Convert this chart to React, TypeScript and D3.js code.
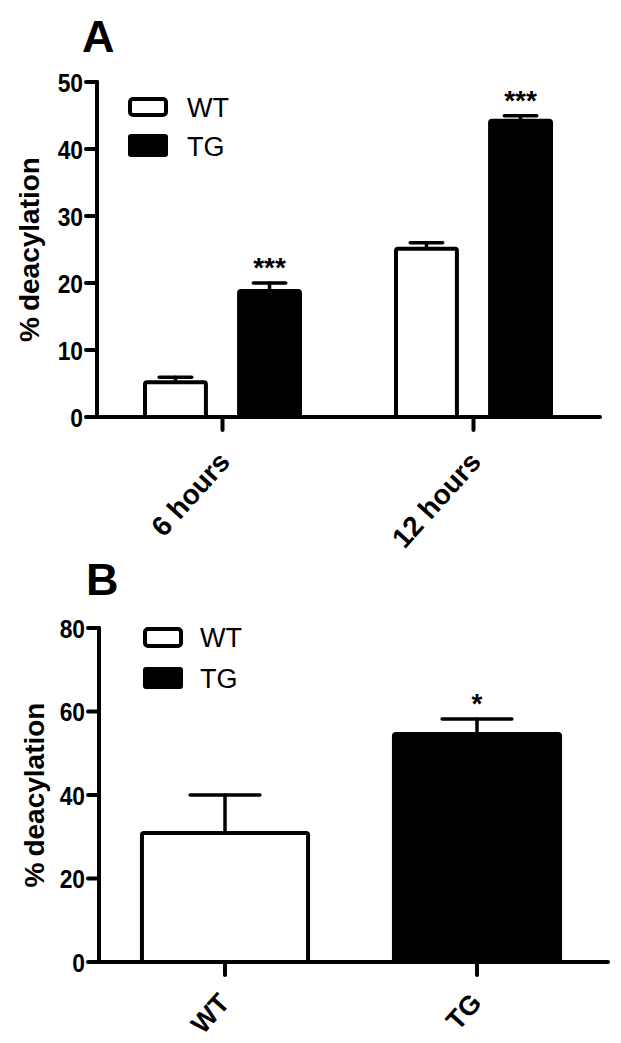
import React from "react";
import * as d3 from "d3";

// ---------- Data ----------
const catsA = ["6 hours", "12 hours"];
const groupsA = ["WT", "TG"];
const wtA = [5.5, 25.4];
const wtErrA = [0.45, 0.6];
const tgA = [19.1, 44.5];
const tgErrA = [0.9, 0.45];
const starsA = ["***", "***"];
const ticksA = [0, 10, 20, 30, 40, 50];

const catsB = ["WT", "TG"];
const valsB = [31.4, 55.1];
const errB = [8.6, 3.1];
const starsB = ["", "*"];
const ticksB = [0, 20, 40, 60, 80];

const FONT = "'Liberation Sans', Arial, Helvetica, sans-serif";
const W = 621;
const H = 1043;

function Bar({ x, w, y0, y1, fill }: { x: number; w: number; y0: number; y1: number; fill: string }) {
  return (
    <rect
      x={x + 2}
      y={y1 + 2}
      width={w - 4}
      height={Math.max(0, y0 - y1 - 2)}
      rx={2}
      fill={fill}
      stroke="#000"
      strokeWidth={4}
    />
  );
}

function ErrBar({ cx, yTop, yBot, capW, sw }: { cx: number; yTop: number; yBot: number; capW: number; sw: number }) {
  return (
    <g stroke="#000" strokeWidth={sw} strokeLinecap="round">
      <line x1={cx} x2={cx} y1={yBot} y2={yTop} />
      <line x1={cx - capW / 2} x2={cx + capW / 2} y1={yTop} y2={yTop} />
    </g>
  );
}

function TickLabel({ x, y, t }: { x: number; y: number; t: number }) {
  return (
    <text transform={`translate(${x},${y}) scale(0.95,1.1)`} dy="0.36em" fontSize={24} fontWeight="bold" textAnchor="end">
      {t}
    </text>
  );
}

function YTitle({ x, y }: { x: number; y: number }) {
  return (
    <text transform={`translate(${x},${y}) rotate(-90)`} fontSize={28} fontWeight="bold" textAnchor="middle">
      %<tspan dx={6}>deacylation</tspan>
    </text>
  );
}

export default function App() {
  // Panel A scales
  const yA = d3.scaleLinear().domain([0, 50]).range([417, 82]);
  const xA = d3.scaleBand<string>().domain(catsA).range([97, 599]);
  const subA = d3.scaleBand<string>().domain(groupsA).range([46, 205]).paddingInner(0.31);
  const bwA = subA.bandwidth();

  // Panel B scales
  const yB = d3.scaleLinear().domain([0, 80]).range([962, 628]);
  const xB = d3
    .scaleBand<string>()
    .domain(catsB)
    .range([99, 603])
    .paddingInner(0.325)
    .paddingOuter(0.1625);
  const bwB = xB.bandwidth();

  const seriesA = [
    { key: "WT", vals: wtA, errs: wtErrA, fill: "#fff" },
    { key: "TG", vals: tgA, errs: tgErrA, fill: "#000" },
  ];

  return (
    <>
      <style>{`body{margin:0}`}</style>
      <svg width={W} height={H} style={{ display: "block", background: "#fff" }} fontFamily={FONT}>
        {/* ===== Panel A ===== */}
        <text x={82} y={52} fontSize={45} fontWeight="bold">A</text>

        {seriesA.map((s) =>
          catsA.map((c, i) => {
            const x0 = (xA(c) as number) + (subA(s.key) as number);
            const v = s.vals[i];
            const e = s.errs[i];
            return (
              <g key={s.key + c}>
                <ErrBar cx={x0 + bwA / 2} yTop={yA(v + e)} yBot={yA(v)} capW={bwA / 2} sw={3.5} />
                <Bar x={x0} w={bwA} y0={yA(0)} y1={yA(v)} fill={s.fill} />
              </g>
            );
          })
        )}
        {catsA.map((c, i) => {
          const x0 = (xA(c) as number) + (subA("TG") as number);
          return (
            <text key={"st" + c} x={x0 + bwA / 2} y={yA(tgA[i] + tgErrA[i]) - 6} fontSize={28} fontWeight="bold" textAnchor="middle">
              {starsA[i]}
            </text>
          );
        })}

        <g stroke="#000" strokeWidth={4} strokeLinecap="round">
          <line x1={97} x2={97} y1={yA(50)} y2={yA(0)} />
          <line x1={97} x2={600} y1={yA(0)} y2={yA(0)} />
          {ticksA.map((t) => (
            <line key={t} x1={86} x2={97} y1={yA(t)} y2={yA(t)} />
          ))}
          {catsA.map((c) => {
            const cx = (xA(c) as number) + xA.bandwidth() / 2;
            return <line key={c} x1={cx} x2={cx} y1={yA(0)} y2={yA(0) + 13} />;
          })}
        </g>
        {ticksA.map((t) => (
          <TickLabel key={t} x={83} y={yA(t)} t={t} />
        ))}
        {catsA.map((c) => {
          const cx = (xA(c) as number) + xA.bandwidth() / 2;
          return (
            <text key={c} transform={`translate(${cx + 9},${yA(0) + 46}) rotate(-48)`} fontSize={28} fontWeight="bold" textAnchor="end">
              {c}
            </text>
          );
        })}
        <YTitle x={39} y={(yA(0) + yA(50)) / 2} />

        {/* legend A */}
        <rect x={130} y={99} width={36} height={16} rx={3} fill="#fff" stroke="#000" strokeWidth={4} />
        <rect x={128} y={134} width={40} height={23} rx={3} fill="#000" />
        <text x={187} y={107} dy="0.36em" fontSize={27}>WT</text>
        <text x={187} y={146} dy="0.36em" fontSize={27}>TG</text>

        {/* ===== Panel B ===== */}
        <text x={86} y={595} fontSize={45} fontWeight="bold">B</text>

        {catsB.map((c, i) => {
          const x0 = xB(c) as number;
          const v = valsB[i];
          const e = errB[i];
          return (
            <g key={"b" + c}>
              <ErrBar cx={x0 + bwB / 2} yTop={yB(v + e)} yBot={yB(v)} capW={bwB * 0.41} sw={3.5} />
              <Bar x={x0} w={bwB} y0={yB(0)} y1={yB(v)} fill={i === 0 ? "#fff" : "#000"} />
              {starsB[i] && (
                <text x={x0 + bwB / 2} y={yB(v + e) - 6} fontSize={28} fontWeight="bold" textAnchor="middle">
                  {starsB[i]}
                </text>
              )}
            </g>
          );
        })}

        <g stroke="#000" strokeWidth={4} strokeLinecap="round">
          <line x1={99} x2={99} y1={yB(80)} y2={yB(0)} />
          <line x1={99} x2={608} y1={yB(0)} y2={yB(0)} />
          {ticksB.map((t) => (
            <line key={t} x1={88} x2={99} y1={yB(t)} y2={yB(t)} />
          ))}
          {catsB.map((c) => {
            const cx = (xB(c) as number) + bwB / 2;
            return <line key={c} x1={cx} x2={cx} y1={yB(0)} y2={yB(0) + 13} />;
          })}
        </g>
        {ticksB.map((t) => (
          <TickLabel key={t} x={85} y={yB(t)} t={t} />
        ))}
        {catsB.map((c) => {
          const cx = (xB(c) as number) + bwB / 2;
          return (
            <text key={c} transform={`translate(${cx + 6},${yB(0) + 42}) rotate(-48)`} fontSize={27} fontWeight="bold" textAnchor="end">
              {c}
            </text>
          );
        })}
        <YTitle x={44} y={(yB(0) + yB(80)) / 2} />

        {/* legend B */}
        <rect x={145} y={629} width={36} height={17} rx={3} fill="#fff" stroke="#000" strokeWidth={4} />
        <rect x={143} y={667} width={40} height={22} rx={3} fill="#000" />
        <text x={200} y={637} dy="0.36em" fontSize={27}>WT</text>
        <text x={200} y={678} dy="0.36em" fontSize={27}>TG</text>
      </svg>
    </>
  );
}
